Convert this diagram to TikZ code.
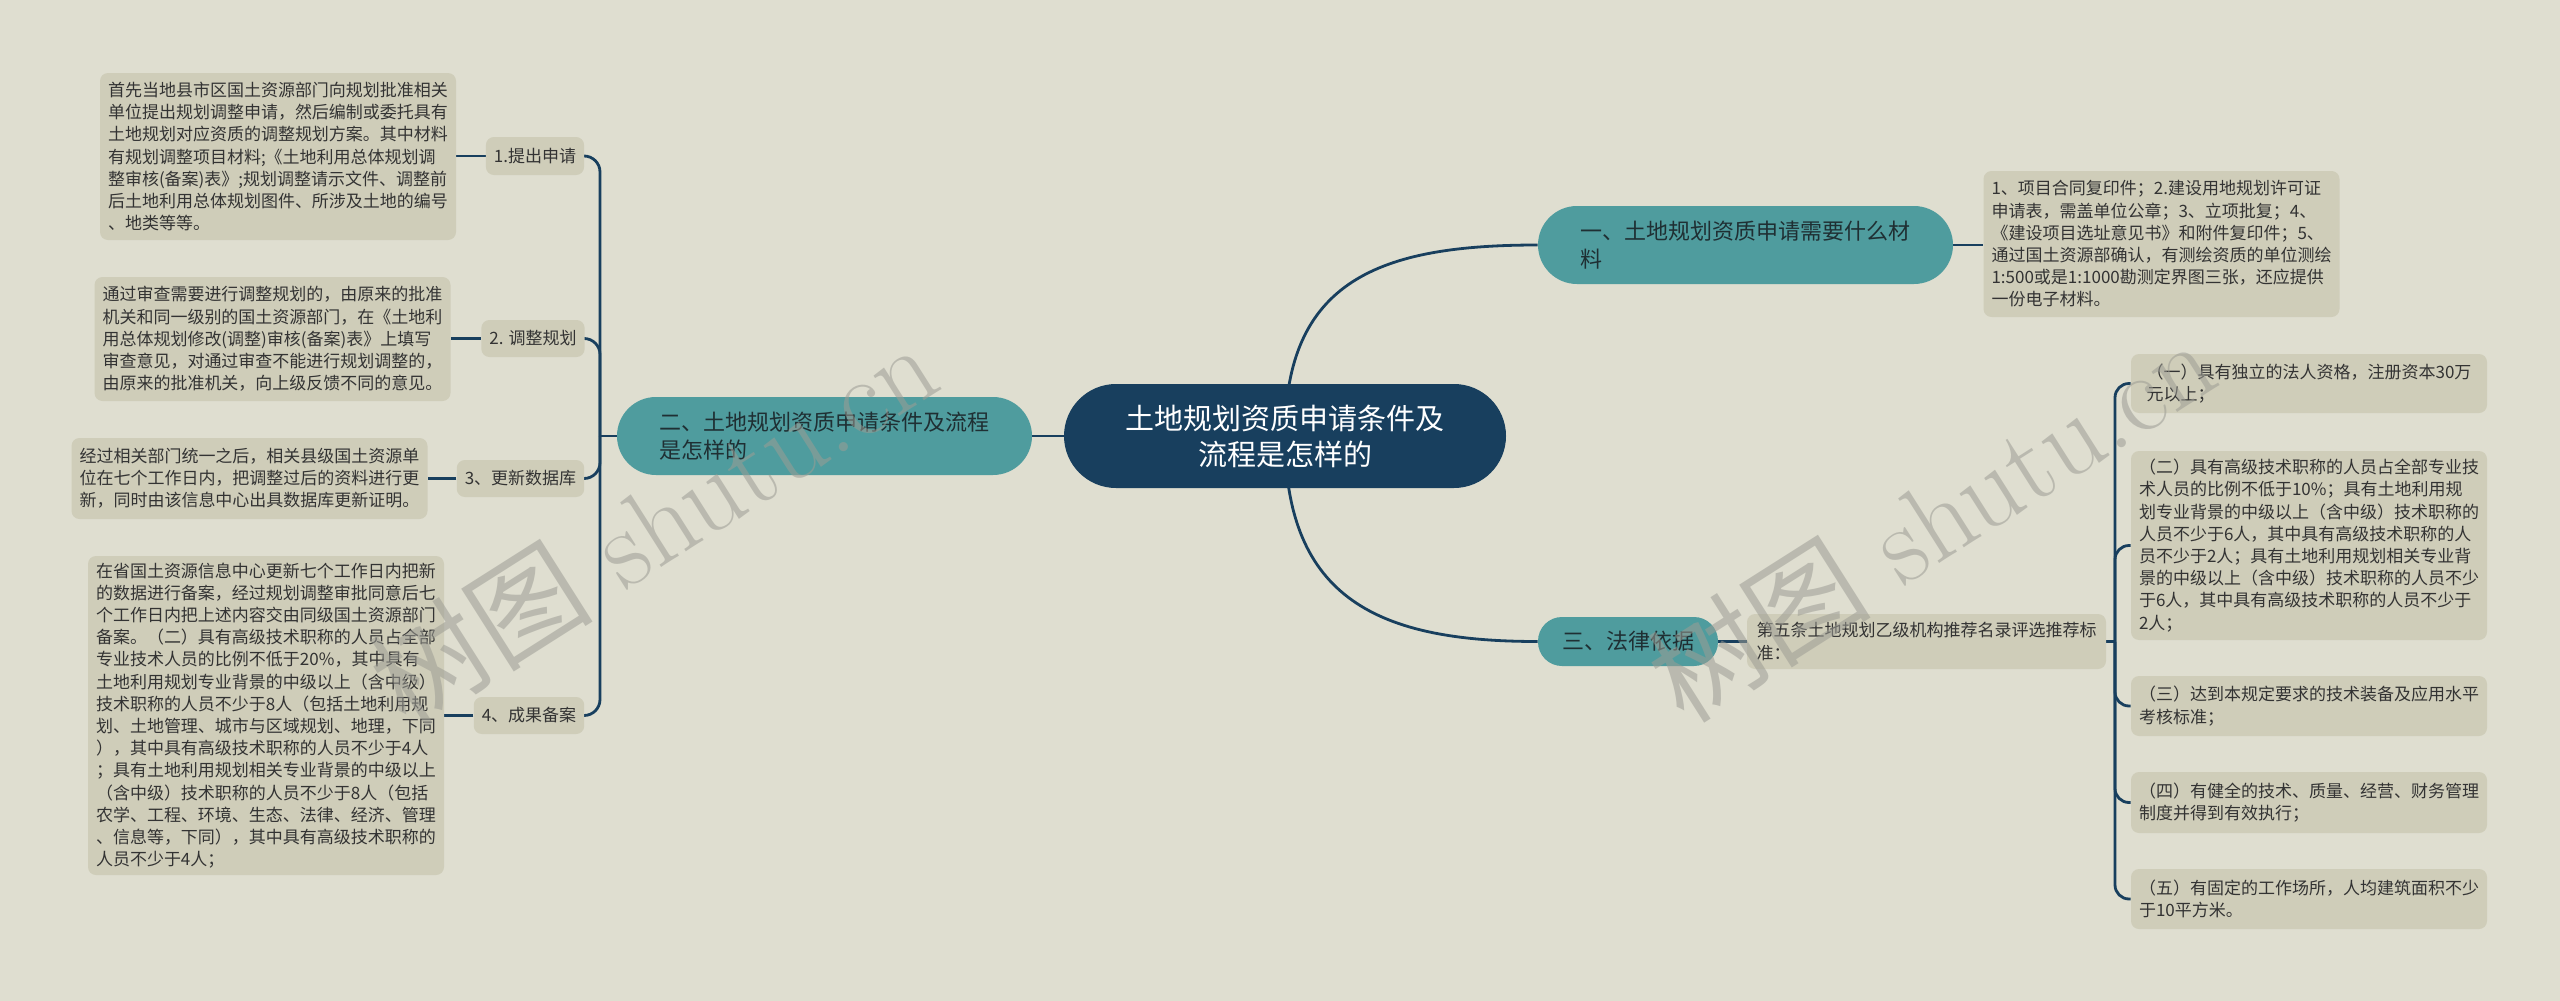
\documentclass[tikz,border=0pt]{standalone}
\usepackage{fontspec}
\newfontfamily\cjk{Noto Sans CJK SC}
\usetikzlibrary{calc}
\definecolor{bgc}{HTML}{DFDED0}
\definecolor{leafc}{HTML}{CFCDB9}
\definecolor{tealc}{HTML}{4F9C9E}
\definecolor{navyc}{HTML}{183F5E}
\definecolor{txtc}{HTML}{333333}
\definecolor{tealtxt}{HTML}{1F2F33}
\definecolor{wmc}{HTML}{9C9C94}
\pgfdeclarelayer{bg}
\pgfsetlayers{bg,main}
\tikzset{
  leaf/.style={fill=leafc, rounded corners=4pt, align=left, text=txtc,
    font=\cjk\fontsize{8.5}{11.1}\selectfont, inner xsep=4pt, inner ysep=2.5pt},
  sub/.style={leaf, align=center},
  branch/.style={fill=tealc, align=left, text=tealtxt,
    font=\cjk\fontsize{11}{14}\selectfont, inner sep=3pt},
  root/.style={fill=navyc, rounded corners=26pt, align=center, text=white,
    font=\cjk\fontsize{14.5}{18}\selectfont, minimum width=221pt, minimum height=52pt},
  conn/.style={draw=navyc, line width=1.4pt},
  wm/.style={text=wmc, opacity=0.55, rotate=32.4, font=\fontsize{56}{60}\selectfont}
}
\begin{document}
\begin{tikzpicture}[x=0.5pt,y=-0.5pt]
\useasboundingbox (0,0) rectangle (2560,1001);

% central
\node[root] (cen) at (1285,436) {土地规划资质申请条件及\\流程是怎样的};

% right branches
\node[branch, rounded corners=19.5pt, minimum width=207.5pt, minimum height=39pt] (b1) at (1745.5,245)
  {一、土地规划资质申请需要什么材\\料};
\node[leaf, minimum width=176.5pt, minimum height=73pt] (l1) at (2161.5,244)
  {1、项目合同复印件；2.建设用地规划许可证\\
   申请表，需盖单位公章；3、立项批复；4、\\
   《建设项目选址意见书》和附件复印件；5、\\
   通过国土资源部确认，有测绘资质的单位测绘\\
   1:500或是1:1000勘测定界图三张，还应提供\\
   一份电子材料。};

\node[branch, rounded corners=12pt, minimum width=90pt, minimum height=24.5pt, align=center] (b3) at (1628,641.5)
  {三、法律依据};
\node[leaf, minimum width=179.5pt, minimum height=27.5pt] (l3) at (1926.5,641.5)
  {第五条土地规划乙级机构推荐名录评选推荐标\\准：};

\node[leaf, minimum width=178pt, minimum height=29.5pt] (s1) at (2309,383.5)
  {（一）具有独立的法人资格，注册资本30万\\元以上；};
\node[leaf, minimum width=178pt, minimum height=94.5pt] (s2) at (2309,545.5)
  {（二）具有高级技术职称的人员占全部专业技\\
   术人员的比例不低于10\%；具有土地利用规\\
   划专业背景的中级以上（含中级）技术职称的\\
   人员不少于6人，其中具有高级技术职称的人\\
   员不少于2人；具有土地利用规划相关专业背\\
   景的中级以上（含中级）技术职称的人员不少\\
   于6人，其中具有高级技术职称的人员不少于\\
   2人；};
\node[leaf, minimum width=178pt, minimum height=30pt] (s3) at (2309,706)
  {（三）达到本规定要求的技术装备及应用水平\\考核标准；};
\node[leaf, minimum width=178pt, minimum height=30.5pt] (s4) at (2309,802.5)
  {（四）有健全的技术、质量、经营、财务管理\\制度并得到有效执行；};
\node[leaf, minimum width=178pt, minimum height=30pt] (s5) at (2309,899)
  {（五）有固定的工作场所，人均建筑面积不少\\于10平方米。};

% left branch
\node[branch, rounded corners=19.5pt, minimum width=207.5pt, minimum height=39pt] (b2) at (824.5,436)
  {二、土地规划资质申请条件及流程\\是怎样的};

\node[sub, minimum width=48pt, minimum height=19pt] (c1) at (535,156) {1.提出申请};
\node[sub, minimum width=50pt, minimum height=18.5pt] (c2) at (533,338.5) {2. 调整规划};
\node[sub, minimum width=62.5pt, minimum height=18.5pt] (c3) at (520.5,478.5) {3、更新数据库};
\node[sub, minimum width=54pt, minimum height=18.5pt] (c4) at (529,715.5) {4、成果备案};

\node[leaf, minimum width=178pt, minimum height=83.5pt] (d1) at (278,156.5)
  {首先当地县市区国土资源部门向规划批准相关\\
   单位提出规划调整申请，然后编制或委托具有\\
   土地规划对应资质的调整规划方案。其中材料\\
   有规划调整项目材料;《土地利用总体规划调\\
   整审核(备案)表》;规划调整请示文件、调整前\\
   后土地利用总体规划图件、所涉及土地的编号\\
   、地类等等。};
\node[leaf, minimum width=177.5pt, minimum height=62pt] (d2) at (272.5,339)
  {通过审查需要进行调整规划的，由原来的批准\\
   机关和同一级别的国土资源部门，在《土地利\\
   用总体规划修改(调整)审核(备案)表》上填写\\
   审查意见，对通过审查不能进行规划调整的，\\
   由原来的批准机关，向上级反馈不同的意见。};
\node[leaf, minimum width=177.5pt, minimum height=40.5pt] (d3) at (249.5,478.5)
  {经过相关部门统一之后，相关县级国土资源单\\
   位在七个工作日内，把调整过后的资料进行更\\
   新，同时由该信息中心出具数据库更新证明。};
\node[leaf, minimum width=177pt, minimum height=159.5pt] (d4) at (266,715.5)
  {在省国土资源信息中心更新七个工作日内把新\\
   的数据进行备案，经过规划调整审批同意后七\\
   个工作日内把上述内容交由同级国土资源部门\\
   备案。（二）具有高级技术职称的人员占全部\\
   专业技术人员的比例不低于20\%，其中具有\\
   土地利用规划专业背景的中级以上（含中级）\\
   技术职称的人员不少于8人（包括土地利用规\\
   划、土地管理、城市与区域规划、地理，下同\\
   ），其中具有高级技术职称的人员不少于4人\\
   ；具有土地利用规划相关专业背景的中级以上\\
   （含中级）技术职称的人员不少于8人（包括\\
   农学、工程、环境、生态、法律、经济、管理\\
   、信息等，下同），其中具有高级技术职称的\\
   人员不少于4人；};

\coordinate (sp) at (600,436);
\coordinate (sp2) at (2115,641.5);

\begin{pgfonlayer}{bg}
  \fill[bgc] (0,0) rectangle (2560,1001);
  % center to branches
  \draw[conn] (cen.center) .. controls (1285,280) and (1380,245) .. (b1.west);
  \draw[conn] (cen.center) .. controls (1285,600) and (1380,641.5) .. (b3.west);
  \draw[conn] (cen.west) -- (b2.east);
  % right leaves
  \draw[conn] (b1.east) -- (b1.east -| l1.west);
  \draw[conn] (b3.east) -- (l3.west);
  \draw[conn] (l3.east) -- (sp2);
  \foreach \s in {s1,s2,s3,s4,s5}
    \draw[conn, rounded corners=7pt] (sp2) |- (\s.west);
  % left
  \draw[conn] (b2.west) -- (sp);
  \foreach \c in {c1,c2,c3,c4}
    \draw[conn, rounded corners=8pt] (sp) |- (\c.east);
  \draw[conn] (c1.west) -- (c1.west -| d1.east);
  \draw[conn] (c2.west) -- (c2.west -| d2.east);
  \draw[conn] (c3.west) -- (c3.west -| d3.east);
  \draw[conn] (c4.west) -- (c4.west -| d4.east);
\end{pgfonlayer}

% watermarks
\node[wm] (wm1) at (653,523) {{\cjk 树图} shutu.cn};
\node[wm] (wm2) at (1931,519) {{\cjk 树图} shutu.cn};
\end{tikzpicture}
\end{document}
